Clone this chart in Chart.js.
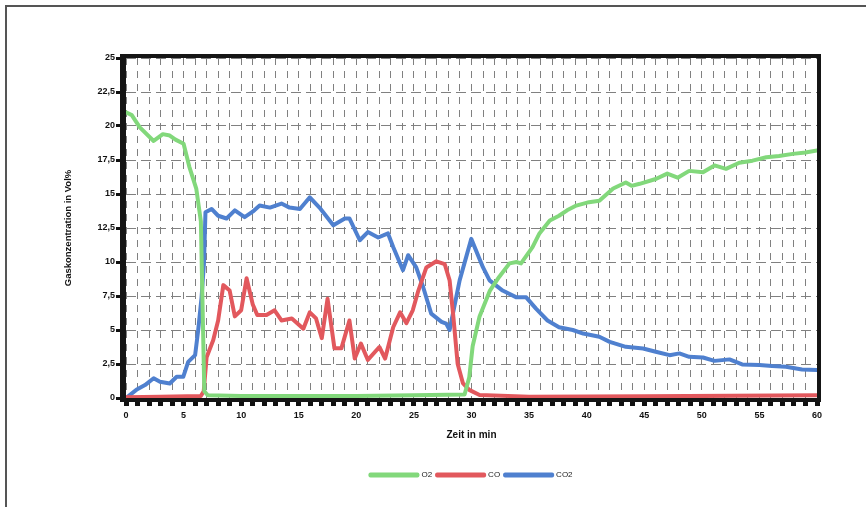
<!DOCTYPE html>
<html>
<head>
<meta charset="utf-8">
<script src="https://cdn.jsdelivr.net/npm/chart.js@4.4.1/dist/chart.umd.min.js"></script>
<style>
  body { margin: 0; background: #fff; }
  #wrap { position: relative; width: 866px; height: 507px; overflow: hidden; }
  #frame { position: absolute; left: 5px; top: 5px; width: 900px; height: 600px;
           border-top: 2px solid #555; border-left: 2px solid #555; }
  canvas { position: absolute; left: 0; top: 0; }
</style>
</head>
<body>
<div id="wrap">
  <div id="frame"></div>
  <canvas id="gasChart" width="866" height="507"></canvas>
</div>
<script>
// O2 readings (time in min, Vol%)
const o2Time = [0, 0.5, 1.2, 2.4, 3.2, 3.8, 4.3, 5.0, 5.5, 6.1, 6.5, 6.8, 7.1, 10, 15, 20, 25, 29.4,
  29.8, 30.1, 30.7, 31.6, 32.4, 33.3, 33.9, 34.3, 35.3, 35.9, 36.8, 37.6, 38.3, 39.1, 40.2, 41.1,
  42.3, 43.4, 43.9, 44.6, 46.0, 47.0, 47.9, 48.9, 50.1, 51.1, 52.1, 53.25, 54.4, 55.6, 56.7, 57.9, 59.0, 60];
const o2Vals = [21.0, 20.8, 19.9, 18.9, 19.4, 19.3, 19.0, 18.7, 17.0, 15.4, 13.0, 0.5, 0.2, 0.15, 0.15, 0.15, 0.2, 0.25,
  1.5, 3.8, 6.0, 7.9, 8.9, 9.9, 10.0, 9.9, 11.1, 12.1, 13.05, 13.4, 13.8, 14.15, 14.4, 14.5,
  15.4, 15.85, 15.6, 15.75, 16.1, 16.5, 16.2, 16.7, 16.6, 17.1, 16.85, 17.3, 17.45, 17.7, 17.8, 17.95, 18.05, 18.2];

// CO readings
const coTime = [0, 3, 6.5, 6.75, 7.0, 7.57, 8.0, 8.45, 9.0, 9.45, 10.0, 10.47, 11.0, 11.4, 12.2, 12.9, 13.5,
  14.4, 15.4, 15.96, 16.5, 17.0, 17.5, 18.1, 18.7, 19.4, 19.86, 20.4, 21.0, 22.0, 22.5, 23.2, 23.8, 24.35,
  24.9, 25.35, 26.08, 26.95, 27.67, 28.1, 28.4, 28.8, 29.25, 29.8, 30.7, 35, 45, 60];
const coVals = [0.05, 0.1, 0.15, 0.5, 3.0, 4.25, 5.7, 8.3, 7.9, 6.0, 6.45, 8.8, 6.9, 6.1, 6.1, 6.45, 5.7,
  5.85, 5.1, 6.3, 5.85, 4.4, 7.3, 3.65, 3.65, 5.7, 2.9, 4.0, 2.8, 3.75, 2.9, 5.2, 6.3, 5.5,
  6.45, 7.8, 9.6, 10.05, 9.85, 8.65, 6.2, 2.5, 1.1, 0.6, 0.22, 0.1, 0.12, 0.2];

// CO2 readings
const co2Time = [0, 0.9, 1.65, 2.4, 2.95, 3.8, 4.4, 4.97, 5.4, 6.0, 6.27, 6.56, 6.77, 6.9, 7.43, 8.0, 8.73,
  9.45, 10.3, 11.0, 11.6, 12.5, 13.5, 14.2, 15.1, 15.96, 16.8, 18.0, 19.0, 19.4, 20.3, 21.0, 21.9, 22.75,
  23.2, 24.05, 24.5, 25.2, 25.8, 26.5, 27.4, 27.8, 28.1, 28.97, 29.98, 31.0, 31.57, 32.7, 33.9, 34.75,
  35.6, 36.6, 37.6, 38.8, 39.7, 41.1, 42.0, 43.4, 44.9, 46.0, 47.2, 48.05, 48.9, 50.1, 51.1, 52.4,
  53.5, 55.0, 56.1, 57.3, 58.7, 60];
const co2Vals = [0, 0.6, 0.95, 1.45, 1.2, 1.07, 1.56, 1.56, 2.66, 3.15, 5.0, 7.4, 9.9, 13.66, 13.9, 13.4, 13.2,
  13.8, 13.3, 13.7, 14.15, 14.0, 14.3, 14.0, 13.9, 14.76, 14.0, 12.7, 13.2, 13.2, 11.6, 12.2, 11.8, 12.1,
  11.1, 9.4, 10.5, 9.6, 8.16, 6.2, 5.6, 5.47, 5.0, 8.65, 11.7, 9.6, 8.65, 7.9, 7.4, 7.4,
  6.57, 5.7, 5.2, 5.0, 4.74, 4.5, 4.13, 3.76, 3.64, 3.4, 3.15, 3.28, 3.03, 2.98, 2.73, 2.84,
  2.47, 2.42, 2.35, 2.3, 2.1, 2.05];

const seriesLabels = ['O2', 'CO', 'CO2'];
const seriesColors = ['#82d87b', '#e2585d', '#4f80cf'];

function toPoints(times, vals) {
  return times.map((t, i) => ({ x: t, y: vals[i] }));
}

// thick black frame round the plot, like the old Excel chart
const plotFrame = {
  id: 'plotFrame',
  afterDraw(chart) {
    const { ctx, chartArea: a } = chart;
    ctx.save();
    ctx.fillStyle = '#151515';
    ctx.fillRect(a.left - 6, a.top - 4, 6, a.bottom - a.top + 8);
    ctx.fillRect(a.left - 6, a.bottom, a.right - a.left + 10, 4);
    ctx.fillRect(a.left - 6, a.top - 4, a.right - a.left + 10, 4);
    ctx.fillRect(a.right, a.top - 4, 4, a.bottom - a.top + 8);
    ctx.restore();
  }
};

const ctx = document.getElementById('gasChart').getContext('2d');
new Chart(ctx, {
  type: 'line',
  data: {
    datasets: [
      { label: seriesLabels[0], data: toPoints(o2Time, o2Vals) },
      { label: seriesLabels[1], data: toPoints(coTime, coVals) },
      { label: seriesLabels[2], data: toPoints(co2Time, co2Vals) }
    ].map((ds, i) => Object.assign(ds, {
      borderColor: seriesColors[i],
      backgroundColor: seriesColors[i],
      borderWidth: 4,
      pointRadius: 0,
      tension: 0,
      borderJoinStyle: 'round',
      borderCapStyle: 'round'
    }))
  },
  options: {
    responsive: false,
    devicePixelRatio: 1,
    animation: false,
    events: [],
    layout: { padding: { top: 58, right: 49, bottom: 18, left: 0 } },
    plugins: {
      tooltip: { enabled: false },
      legend: {
        position: 'bottom',
        fullSize: false,
        labels: {
          boxWidth: 47,
          boxHeight: 1,
          padding: 5,
          color: '#222',
          font: { family: 'Liberation Sans, Arial, sans-serif', size: 8 }
        }
      }
    },
    scales: {
      x: {
        type: 'linear',
        min: 0,
        max: 60,
        afterFit(scale) { scale.height = 68; },
        ticks: {
          stepSize: 1,
          autoSkip: false,
          maxRotation: 0,
          padding: 4,
          color: '#111',
          font: { family: 'Liberation Sans, Arial, sans-serif', size: 9, weight: 'bold' },
          callback: v => (v % 5 === 0 ? String(v) : '')
        },
        grid: {
          color: '#808080',
          lineWidth: 1,
          tickColor: '#111',
          tickWidth: 5,
          tickLength: 8,
          tickBorderDash: []
        },
        border: { display: false, dash: [7, 6] },
        title: {
          display: true,
          text: 'Zeit in min',
          color: '#111',
          padding: { top: 0, bottom: 25 },
          font: { family: 'Liberation Sans, Arial, sans-serif', size: 10, weight: 'bold' }
        }
      },
      y: {
        min: 0,
        max: 25,
        afterFit(scale) { scale.width = 126; },
        ticks: {
          stepSize: 2.5,
          padding: 1,
          color: '#111',
          font: { family: 'Liberation Sans, Arial, sans-serif', size: 9, weight: 'bold' },
          callback: v => String(v).replace('.', ',')
        },
        grid: {
          color: '#808080',
          lineWidth: 1,
          tickColor: '#111',
          tickWidth: 3,
          tickLength: 10,
          tickBorderDash: []
        },
        border: { display: false, dash: [10, 5] },
        title: {
          display: true,
          text: 'Gaskonzentration in Vol%',
          color: '#111',
          padding: { top: 63, bottom: 0 },
          font: { family: 'Liberation Sans, Arial, sans-serif', size: 9.5, weight: 'bold' }
        }
      }
    }
  },
  plugins: [plotFrame]
});
</script>
</body>
</html>
